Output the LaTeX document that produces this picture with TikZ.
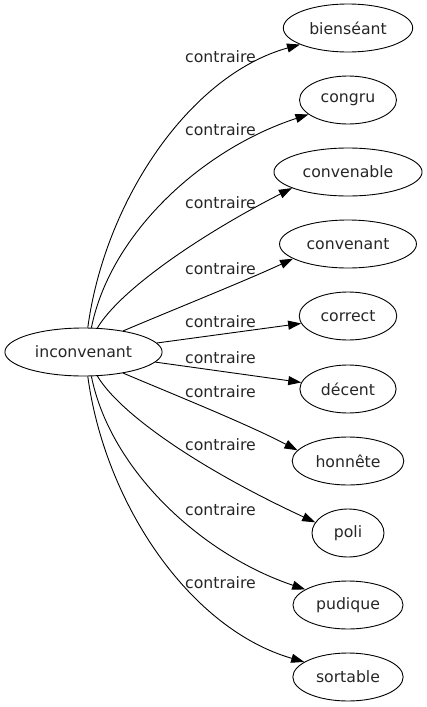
\documentclass[tikz,border=0pt]{standalone}
\usepackage{fontspec}
\setmainfont{DejaVu Sans}
\usetikzlibrary{shapes.geometric,arrows.meta}
\begin{document}
\begin{tikzpicture}[x=1pt,y=-1pt,
  every node/.style={font=\fontsize{15.7}{18}\selectfont, text=black!85},
  word/.style={draw, line width=0.9pt, ellipse, minimum height=48pt, minimum width=72pt, inner xsep=7pt, inner ysep=0pt},
  lab/.style={inner sep=0pt},
  rel/.style={draw, line width=0.9pt, -{Triangle[length=13pt,width=9pt]}}]
\useasboundingbox (0,0) rectangle (427,707);
\node[word] (inc) at (83.5,352) {inconvenant};
\node[word] (n1) at (348,28) {bienséant};
\node[word] (n2) at (348,100) {congru};
\node[word] (n3) at (348,172) {convenable};
\node[word] (n4) at (348,244) {convenant};
\node[word] (n5) at (348,316) {correct};
\node[word] (n6) at (348,389) {décent};
\node[word] (n7) at (348,461) {honnête};
\node[word] (n8) at (348,533) {poli};
\node[word] (n9) at (348,605) {pudique};
\node[word] (n10) at (348,677) {sortable};
\node[lab] (l1) at (220.5,57) {contraire};
\node[lab] (l2) at (220.5,130) {contraire};
\node[lab] (l3) at (220.5,203) {contraire};
\node[lab] (l4) at (220.5,269) {contraire};
\node[lab] (l5) at (220.5,322) {contraire};
\node[lab] (l6) at (220.5,358) {contraire};
\node[lab] (l7) at (220.5,392) {contraire};
\node[lab] (l8) at (220.5,445) {contraire};
\node[lab] (l9) at (220.5,510) {contraire};
\node[lab] (l10) at (220.5,583) {contraire};
\draw[rel] (inc.80) .. controls (105,200) and (190,75) .. (n1.199);
\draw[rel] (inc.72) .. controls (110,235) and (200,150) .. (n2.200);
\draw[rel] (inc.60) .. controls (120,290) and (200,235) .. (n3.196);
\draw[rel] (inc.28) .. controls (170,311) and (245,281) .. (n4.195);
\draw[rel] (inc.7) -- (n5.189);
\draw[rel] (inc.-8) -- (n6.172);
\draw[rel] (inc.-28) .. controls (170,393) and (245,423) .. (n7.168);
\draw[rel] (inc.-60) .. controls (120,414) and (200,469) .. (n8.162);
\draw[rel] (inc.-72) .. controls (110,469) and (200,554) .. (n9.160);
\draw[rel] (inc.-80) .. controls (105,504) and (190,629) .. (n10.161);
\end{tikzpicture}
\end{document}
